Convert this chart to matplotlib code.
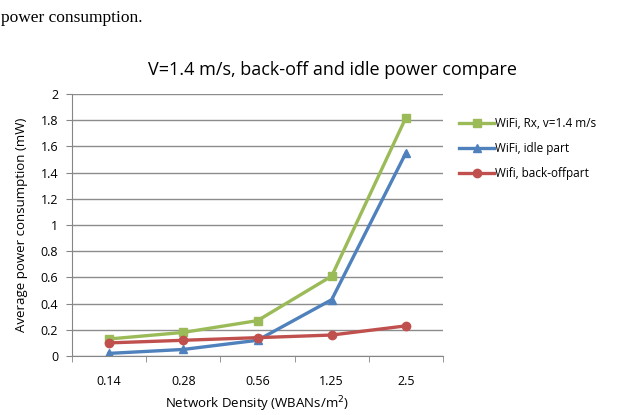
import numpy as np
import matplotlib.pyplot as plt

categories = ['0.14', '0.28', '0.56', '1.25', '2.5']
rx_total = [0.13, 0.18, 0.27, 0.61, 1.82]
idle_part = [0.02, 0.05, 0.12, 0.43, 1.55]
backoff_part = [0.10, 0.12, 0.14, 0.16, 0.23]
labels = ['WiFi, Rx, v=1.4 m/s', 'WiFi, idle part', 'Wifi, back-offpart']

plt.rcParams['font.family'] = ['Open Sans', 'DejaVu Sans']

fig = plt.figure(figsize=(6.21, 4.15), dpi=100)
ax = fig.add_axes([72 / 621, 1 - 356 / 415, 371 / 621, 262 / 415])

x = np.arange(len(categories))
ax.plot(x, rx_total, color='#9BBB59', lw=2.4, marker='s', ms=6, label=labels[0])
ax.plot(x, idle_part, color='#4F81BD', lw=2.4, marker='^', ms=6, label=labels[1])
ax.plot(x, backoff_part, color='#C0504D', lw=2.4, marker='o', ms=6, label=labels[2])

ax.set_xlim(-0.5, len(categories) - 0.5)
ax.set_ylim(0, 2)
ax.set_yticks(np.arange(0, 2.01, 0.2))
ax.set_yticklabels(['0', '0.2', '0.4', '0.6', '0.8', '1', '1.2', '1.4', '1.6', '1.8', '2'])
ax.set_xticks(x)
ax.set_xticklabels(categories)
ax.set_xticks(np.arange(-0.5, len(categories), 1), minor=True)
ax.tick_params(axis='x', which='major', length=0, pad=14, labelsize=9)
ax.tick_params(axis='x', which='minor', length=4, color='#868686')
ax.tick_params(axis='y', length=4, color='#868686', labelsize=9, pad=6)
ax.grid(axis='y', color='#8c8c8c', lw=1)
ax.set_axisbelow(True)
for s in ['top', 'right']:
    ax.spines[s].set_visible(False)
for s in ['left', 'bottom']:
    ax.spines[s].set_color('#868686')

ax.set_ylabel('Average power consumption (mW)', fontsize=9.5, labelpad=9)
ax.set_xlabel('Network Density (WBANs/m$^2$)', fontsize=9.5, labelpad=4)

fig.text(332 / 621, 1 - 70 / 415, 'V=1.4 m/s, back-off and idle power compare',
         ha='center', va='center', fontsize=13)
fig.text(0.002, 1 - 18 / 415, 'power consumption.', ha='left', va='center',
         fontsize=12.5, family='Liberation Serif')

ax.legend(loc='upper left', bbox_to_anchor=(1.03, 0.93), frameon=False,
          fontsize=8.5, handlelength=3, handletextpad=0.1, labelspacing=1.0,
          borderaxespad=0)

fig.savefig('out.png', dpi=100)
